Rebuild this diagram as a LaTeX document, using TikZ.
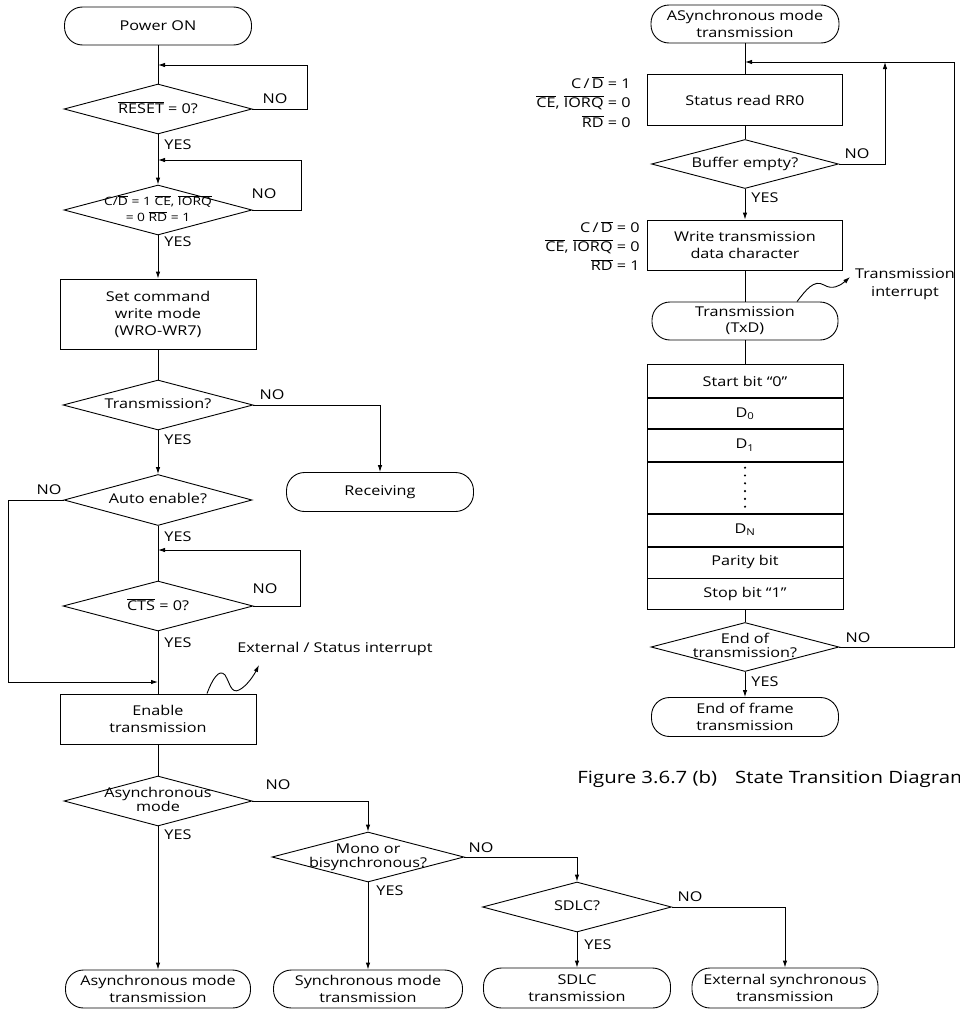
\documentclass[tikz,border=0pt]{standalone}
\usepackage{fontspec}
\setmainfont{Open Sans}[FakeStretch=1.2]
\usetikzlibrary{shapes.geometric,arrows.meta}
\newcommand\ovl[1]{$\overline{\mbox{#1}}$}
\newcommand\dtext[1]{\makebox[0pt]{\raisebox{-.3em}[0pt][0pt]{\begin{tabular}{@{}c@{}}#1\end{tabular}}}}

\begin{document}
\begin{tikzpicture}[x=1pt, y=-1pt, line width=0.9pt,
    font=\fontsize{13.5}{17}\selectfont,
    term/.style={draw, rounded corners=18pt, minimum width=187pt, minimum height=38pt, inner sep=0pt, align=center},
    proc/.style={draw, minimum width=196pt, minimum height=50pt, inner sep=0pt, align=center},
    dec/.style={draw, diamond, minimum width=188pt, minimum height=50pt, inner sep=0pt, font=\fontsize{13.5}{14.5}\selectfont},
    bit/.style={draw, minimum width=196pt, anchor=north, inner sep=0pt},
    arr/.style={-{Latex[length=7pt,width=4.5pt]}},
    lbl/.style={inner sep=0pt}]
  \path[use as bounding box, clip] (0,0) rectangle (959,1009);

  \node[term] (pwr) at (158,26) {Power ON};
  \coordinate (j1) at (158,65);
  \node[dec] (rst) at (158,109) {\dtext{\ovl{RESET} = 0?}};
  \node[lbl] (rstno) at (275,99) {NO};
  \node[lbl, anchor=west] (rstyes) at (164,145) {YES};
  \coordinate (j2) at (158,160);
  \node[dec, font=\fontsize{11.5}{16}\selectfont] (cd) at (158,210) {\dtext{C/\ovl{D} = 1 \ovl{CE}, \ovl{IORQ}\\= 0 \ovl{RD} = 1}};
  \node[lbl] (cdno) at (264,194) {NO};
  \node[lbl, anchor=west] (cdyes) at (164,242) {YES};
  \node[proc, minimum height=70pt] (cmd) at (158,314) {Set command\\write mode\\(WRO-WR7)};
  \node[dec, minimum width=190pt] (tx) at (158,405) {\dtext{Transmission?}};
  \node[lbl] (txno) at (272,395) {NO};
  \node[lbl, anchor=west] (txyes) at (164,440) {YES};
  \node[term, minimum height=39pt] (rcv) at (380,492) {Receiving};
  \node[dec, minimum height=51pt] (ae) at (158,500) {\dtext{Auto enable?}};
  \node[lbl] (aeno) at (49,490) {NO};
  \node[lbl, anchor=west] (aeyes) at (164,537) {YES};
  \coordinate (j3) at (158,550);
  \node[dec, minimum width=190pt] (cts) at (158,606) {\dtext{\ovl{CTS} = 0?}};
  \node[lbl] (ctsno) at (265,589) {NO};
  \node[lbl, anchor=west] (ctsyes) at (164,643) {YES};
  \coordinate (j4) at (158,682);
  \node[proc] (en) at (158,719) {Enable\\transmission};
  \node[lbl] (esi) at (335,649) {External / Status interrupt};
  \coordinate (esitip) at (259,665);
  \node[dec] (asy) at (158,801) {\dtext{Asynchronous\\mode}};
  \node[lbl] (asyno) at (278,785) {NO};
  \node[lbl, anchor=west] (asyyes) at (164,835) {YES};
  \node[term, minimum width=185pt] (ast) at (158,989) {Asynchronous mode\\transmission};
  \node[dec, minimum width=192pt] (mono) at (368,857) {\dtext{Mono or\\bisynchronous?}};
  \node[lbl] (monono) at (481,848) {NO};
  \node[lbl, anchor=west] (monoyes) at (376,891) {YES};
  \node[term, minimum width=189pt] (syn) at (368,989) {Synchronous mode\\transmission};
  \node[dec, minimum width=189pt] (sdlc) at (577,907) {\dtext{SDLC?}};
  \node[lbl] (sdlcno) at (690,897) {NO};
  \node[lbl, anchor=west] (sdlcyes) at (584,945) {YES};
  \node[term, minimum height=40pt] (sdl) at (577,988) {SDLC\\transmission};
  \node[term, minimum width=186pt, minimum height=40pt] (extn) at (785,988) {External synchronous\\transmission};

  \draw (pwr.south) -- (rst.north);
  \draw[arr] (rst.east) -- ++(55,0) |- (j1);
  \draw[arr] (rst.south) -- (cd.north);
  \draw[arr] (cd.east) -- ++(49,0) |- (j2);
  \draw[arr] (cd.south) -- (cmd.north);
  \draw (cmd.south) -- (tx.north);
  \draw[arr] (tx.east) -| (rcv.north);
  \draw[arr] (tx.south) -- (ae.north);
  \draw (ae.south) -- (cts.north);
  \draw[arr] (cts.east) -- ++(47,0) |- (j3);
  \draw[arr] (ae.west) -- ++(-55,0) |- (j4);
  \draw (cts.south) -- (en.north);
  \draw[arr] ([xshift=49pt]en.north) .. controls (212,680) and (219,668) .. (225,675)
    .. controls (230,683) and (231,694) .. (239,690) .. controls (247,686) and (254,675) .. (esitip);
  \draw (en.south) -- (asy.north);
  \draw[arr] (asy.south) -- (ast.north);
  \draw[arr] (asy.east) -| (mono.north);
  \draw[arr] (mono.south) -- (syn.north);
  \draw[arr] (mono.east) -| (sdlc.north);
  \draw[arr] (sdlc.south) -- (sdl.north);
  \draw[arr] (sdlc.east) -| (extn.north);

  \node[term, minimum width=188pt] (atop) at (745,24) {ASynchronous mode\\transmission};
  \coordinate (j5) at (745,62);
  \coordinate (j6) at (885,62);
  \node[proc, minimum width=195pt, minimum height=51pt] (rr) at (745,100) {Status read RR0};
  \node[lbl, anchor=east, align=right, font=\fontsize{13.5}{19.5}\selectfont] (rrsig) at (631,102)
    {C\,/\,\ovl{D} = 1\\\ovl{CE}, \ovl{IORQ} = 0\\\ovl{RD} = 0};
  \node[dec, minimum width=187pt, minimum height=49pt] (be) at (745,164) {\dtext{Buffer empty?}};
  \node[lbl] (beno) at (857,154) {NO};
  \node[lbl, anchor=west] (beyes) at (751,198) {YES};
  \node[proc, minimum width=195pt] (wr) at (745,245) {Write transmission\\data character};
  \node[lbl, anchor=east, align=right, font=\fontsize{13.5}{19}\selectfont] (wrsig) at (640,246)
    {C\,/\,\ovl{D} = 0\\\ovl{CE}, \ovl{IORQ} = 0\\\ovl{RD} = 1};
  \node[lbl, align=center, font=\fontsize{13.5}{18}\selectfont] (txi) at (905,284) {Transmission\\interrupt};
  \coordinate (txitip) at (850,277);
  \node[term, minimum width=186pt, font=\fontsize{13.5}{16}\selectfont] (txd) at (745,321) {Transmission\\(TxD)};
  \node[bit, minimum height=33pt] (bst) at (745,364) {Start bit “0”};
  \node[bit, minimum height=30pt] (bd0) at (bst.south) {D\textsubscript{0}};
  \node[bit, minimum height=32pt] (bd1) at (bd0.south) {D\textsubscript{1}};
  \node[bit, minimum height=51pt] (bdots) at (bd1.south) {};
  \node[bit, minimum height=32pt] (bdn) at (bdots.south) {D\textsubscript{N}};
  \node[bit, minimum height=31pt] (bpar) at (bdn.south) {Parity bit};
  \node[bit, minimum height=31pt] (bstp) at (bpar.south) {Stop bit “1”};
  \foreach \k in {0,...,5}
    \fill ([yshift=-6pt-\k*7.8pt]bdots.north) circle (1.2pt);
  \node[dec, minimum height=49pt] (eot) at (745,647) {\dtext{End of\\transmission?}};
  \node[lbl] (eotno) at (858,638) {NO};
  \node[lbl, anchor=west] (eotyes) at (751,682) {YES};
  \node[term, minimum height=39pt] (eof) at (745,717) {End of frame\\transmission};
  \node[lbl, anchor=west, font=\fontsize{17}{20}\selectfont] (cap) at (577,779)
    {Figure 3.6.7 (b)\hspace{18pt}State Transition Diagram};

  \draw (atop.south) -- (rr.north);
  \draw (rr.south) -- (be.north);
  \draw[arr] (be.east) -| (j6);
  \draw[arr] (be.south) -- (wr.north);
  \draw (wr.south) -- (txd.north);
  \draw[arr] ([xshift=52pt]txd.north) .. controls (806,290) and (814,279) .. (824,285)
    .. controls (832,290) and (840,286) .. (txitip);
  \draw (txd.south) -- (bst.north);
  \draw (bstp.south) -- (eot.north);
  \draw[arr] (eot.south) -- (eof.north);
  \draw[arr] (eot.east) -- ++(115,0) |- (j5);
\end{tikzpicture}
\end{document}
